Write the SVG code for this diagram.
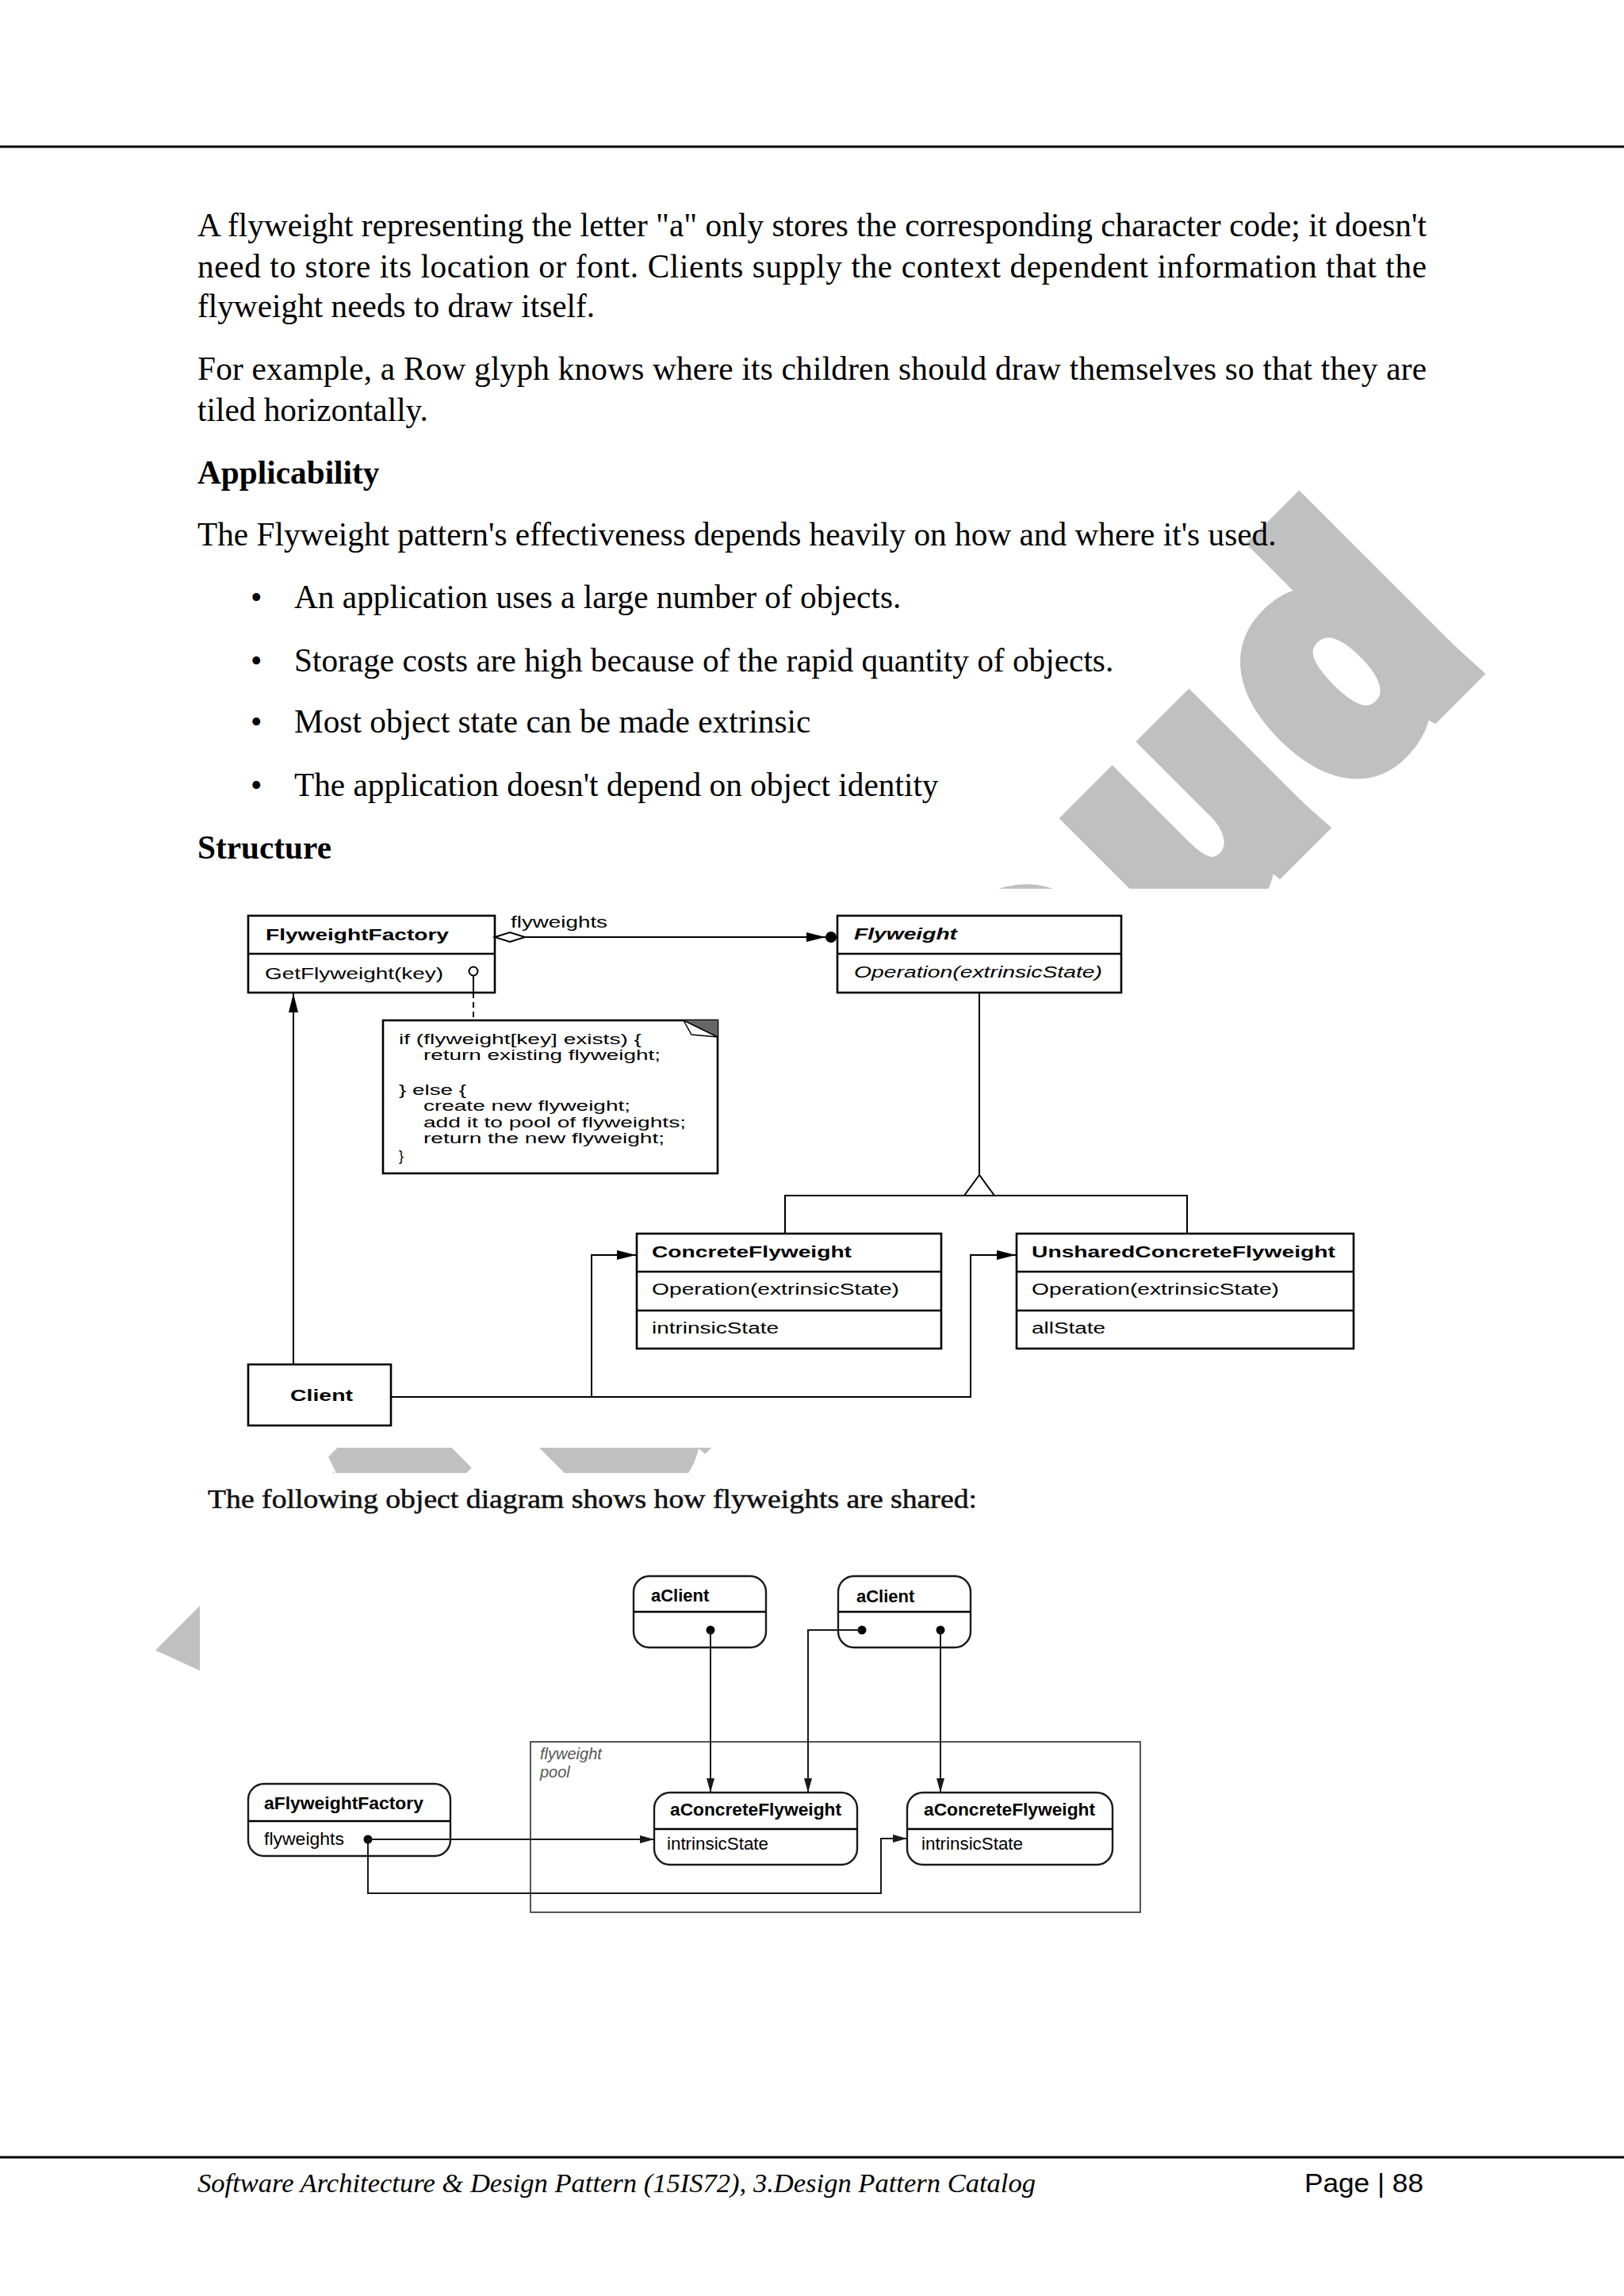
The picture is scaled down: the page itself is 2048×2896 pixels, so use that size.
<svg xmlns="http://www.w3.org/2000/svg" width="2048" height="2896" viewBox="0 0 2048 2896">
<defs>
<style>
.body{font-family:"Liberation Serif","Times New Roman",serif;font-size:41.3px;fill:#000}
.bold{font-weight:bold}
.it{font-style:italic}
.sans{font-family:"Liberation Sans",Arial,Helvetica,sans-serif;fill:#000}
.s20{font-size:20px}
.s18{font-size:18px}
.s22{font-size:22px}
.box{fill:#fff;stroke:#000;stroke-width:2.6}
.div{stroke:#000;stroke-width:2.4}
.conn{fill:none;stroke:#000;stroke-width:2}
.obox{fill:#fff;stroke:#1a1a1a;stroke-width:2.4}
.oconn{fill:none;stroke:#1a1a1a;stroke-width:2}
.dot{fill:#000}
.wm{font-family:"Liberation Sans",Arial,sans-serif;font-weight:bold;font-size:400px;fill:#c0c0c0;stroke:#c0c0c0;stroke-width:40;stroke-linejoin:miter;stroke-miterlimit:4}
</style>
<marker id="arr" viewBox="0 0 24 12" refX="24" refY="6" markerWidth="24" markerHeight="12" markerUnits="userSpaceOnUse" orient="auto"><path d="M0,0 L24,6 L0,12 Z" fill="#000"/></marker>
<marker id="oarr" viewBox="0 0 18 10" refX="18" refY="5" markerWidth="18" markerHeight="10" markerUnits="userSpaceOnUse" orient="auto"><path d="M0,0 L18,5 L0,10 Z" fill="#1a1a1a"/></marker>
</defs>
<rect width="2048" height="2896" fill="#fff"/>

<g id="watermark" transform="translate(1860,835) rotate(-45)">
<text class="wm" y="0"><tspan x="-2032">V</tspan><tspan x="-1775" style="font-size:450px">t</tspan><tspan x="-1540">u</tspan><tspan x="-1238">c</tspan><tspan x="-982">l</tspan><tspan x="-813">o</tspan><tspan x="-515">u</tspan><tspan x="-240">d</tspan></text>
</g>
<g id="image-backgrounds" fill="#fff">
<rect x="285" y="1121" width="1480" height="705"/>
<rect x="252" y="1858" width="1250" height="580"/>
</g>

<g id="page-text">
<line x1="0" y1="185" x2="2048" y2="185" stroke="#000" stroke-width="3"/>
<text class="body" x="249" y="298" textLength="1550" lengthAdjust="spacing">A flyweight representing the letter "a" only stores the corresponding character code; it doesn't</text>
<text class="body" x="249" y="350" textLength="1550" lengthAdjust="spacing">need to store its location or font. Clients supply the context dependent information that the</text>
<text class="body" x="249" y="400">flyweight needs to draw itself.</text>
<text class="body" x="249" y="479" textLength="1550" lengthAdjust="spacing">For example, a Row glyph knows where its children should draw themselves so that they are</text>
<text class="body" x="249" y="531">tiled horizontally.</text>
<text class="body bold" x="249" y="610">Applicability</text>
<text class="body" x="249" y="688">The Flyweight pattern's effectiveness depends heavily on how and where it's used.</text>
<text class="body" x="316" y="767">•</text>
<text class="body" x="371" y="767">An application uses a large number of objects.</text>
<text class="body" x="316" y="847">•</text>
<text class="body" x="371" y="847">Storage costs are high because of the rapid quantity of objects.</text>
<text class="body" x="316" y="924">•</text>
<text class="body" x="371" y="924">Most object state can be made extrinsic</text>
<text class="body" x="316" y="1004">•</text>
<text class="body" x="371" y="1004">The application doesn't depend on object identity</text>
<text class="body bold" x="249" y="1083">Structure</text>
<text x="262" y="1902" font-family="Liberation Serif, serif" font-size="33" fill="#111" stroke="#111" stroke-width="0.5" textLength="970" lengthAdjust="spacingAndGlyphs">The following object diagram shows how flyweights are shared:</text>
<line x1="0" y1="2721" x2="2048" y2="2721" stroke="#000" stroke-width="3"/>
<text class="body it" x="249" y="2765" style="font-size:34.4px" textLength="1057" lengthAdjust="spacingAndGlyphs">Software Architecture &amp; Design Pattern (15IS72), 3.Design Pattern Catalog</text>
<text x="1645" y="2765" font-family="Liberation Sans, Arial, sans-serif" font-size="34" fill="#000" textLength="150" lengthAdjust="spacingAndGlyphs">Page | 88</text>
</g>

<g id="structure-nodes">
<g id="flyweightFactory">
<rect class="box" x="313" y="1155" width="311" height="97"/>
<line class="div" x1="313" y1="1203" x2="624" y2="1203"/>
<text class="sans s20 bold" x="335" y="1186" textLength="231" lengthAdjust="spacingAndGlyphs">FlyweightFactory</text>
<text class="sans s20" x="334" y="1235" textLength="225" lengthAdjust="spacingAndGlyphs">GetFlyweight(key)</text>
<circle cx="597" cy="1225" r="5.5" fill="#fff" stroke="#000" stroke-width="2"/>
<line x1="597" y1="1230.5" x2="597" y2="1252" stroke="#000" stroke-width="2"/>
</g>
<g id="note">
<rect class="box" x="483" y="1287" width="422" height="193"/>
<polygon points="862,1287 905,1287 905,1308" fill="#666"/>
<polygon points="862,1287 872,1305 905,1308" fill="#fff" stroke="#000" stroke-width="1.5"/>
<text class="sans s18" x="503" y="1317" textLength="306" lengthAdjust="spacingAndGlyphs">if (flyweight[key] exists) {</text>
<text class="sans s18" x="534" y="1337" textLength="299" lengthAdjust="spacingAndGlyphs">return existing flyweight;</text>
<text class="sans s18" x="503" y="1381" textLength="85" lengthAdjust="spacingAndGlyphs">} else {</text>
<text class="sans s18" x="534" y="1401" textLength="261" lengthAdjust="spacingAndGlyphs">create new flyweight;</text>
<text class="sans s18" x="534" y="1422" textLength="331" lengthAdjust="spacingAndGlyphs">add it to pool of flyweights;</text>
<text class="sans s18" x="534" y="1442" textLength="304" lengthAdjust="spacingAndGlyphs">return the new flyweight;</text>
<text class="sans s18" x="503" y="1464">}</text>
</g>
<g id="flyweight">
<rect class="box" x="1056" y="1155" width="358" height="97"/>
<line class="div" x1="1056" y1="1203" x2="1414" y2="1203"/>
<text class="sans s20 bold it" x="1077" y="1185" textLength="130" lengthAdjust="spacingAndGlyphs">Flyweight</text>
<text class="sans s20 it" x="1077" y="1233" textLength="313" lengthAdjust="spacingAndGlyphs">Operation(extrinsicState)</text>
</g>
<g id="concreteFlyweight">
<rect class="box" x="803" y="1556" width="384" height="145"/>
<line class="div" x1="803" y1="1604" x2="1187" y2="1604"/>
<line class="div" x1="803" y1="1653" x2="1187" y2="1653"/>
<text class="sans s20 bold" x="822" y="1586" textLength="252" lengthAdjust="spacingAndGlyphs">ConcreteFlyweight</text>
<text class="sans s20" x="822" y="1633" textLength="312" lengthAdjust="spacingAndGlyphs">Operation(extrinsicState)</text>
<text class="sans s20" x="822" y="1682" textLength="160" lengthAdjust="spacingAndGlyphs">intrinsicState</text>
</g>
<g id="unsharedConcreteFlyweight">
<rect class="box" x="1282" y="1556" width="425" height="145"/>
<line class="div" x1="1282" y1="1604" x2="1707" y2="1604"/>
<line class="div" x1="1282" y1="1653" x2="1707" y2="1653"/>
<text class="sans s20 bold" x="1301" y="1586" textLength="383" lengthAdjust="spacingAndGlyphs">UnsharedConcreteFlyweight</text>
<text class="sans s20" x="1301" y="1633" textLength="312" lengthAdjust="spacingAndGlyphs">Operation(extrinsicState)</text>
<text class="sans s20" x="1301" y="1682" textLength="93" lengthAdjust="spacingAndGlyphs">allState</text>
</g>
<g id="client">
<rect class="box" x="313" y="1721" width="180" height="77"/>
<text class="sans s20 bold" x="366" y="1767" textLength="79" lengthAdjust="spacingAndGlyphs">Client</text>
</g>
</g>

<g id="structure-connectors">
<polygon points="624,1182 643,1176 662,1182 643,1188" fill="#fff" stroke="#000" stroke-width="2"/>
<line class="conn" x1="662" y1="1182" x2="1041" y2="1182" marker-end="url(#arr)"/>
<circle cx="1048" cy="1182" r="7" class="dot"/>
<text class="sans s20" x="644" y="1170" textLength="122" lengthAdjust="spacingAndGlyphs">flyweights</text>
<line class="conn" x1="597" y1="1252" x2="597" y2="1287" stroke-dasharray="7,5"/>
<line class="conn" x1="1235" y1="1252" x2="1235" y2="1482"/>
<polygon points="1235,1482 1216,1508 1254,1508" fill="#fff" stroke="#000" stroke-width="2"/>
<polyline class="conn" points="990,1556 990,1508 1497,1508 1497,1556"/>
<line class="conn" x1="370" y1="1721" x2="370" y2="1253" marker-end="url(#arr)"/>
<polyline class="conn" points="493,1762 746,1762 746,1583 802,1583" marker-end="url(#arr)"/>
<polyline class="conn" points="746,1762 1224,1762 1224,1583 1281,1583" marker-end="url(#arr)"/>
</g>

<g id="flyweightPool">
<rect x="669" y="2197" width="769" height="215" fill="none" stroke="#444" stroke-width="1.8"/>
<text class="sans it" x="681" y="2219" font-size="20" style="fill:#555">flyweight</text>
<text class="sans it" x="681" y="2242" font-size="20" style="fill:#555">pool</text>
</g>

<g id="object-nodes">
<g id="aClient1">
<rect class="obox" x="799" y="1988" width="167" height="90" rx="20"/>
<line class="div" x1="799" y1="2033" x2="966" y2="2033"/>
<text class="sans s22 bold" x="821" y="2020">aClient</text>
<circle cx="896" cy="2056" r="5.5" class="dot"/>
</g>
<g id="aClient2">
<rect class="obox" x="1057" y="1988" width="167" height="90" rx="20"/>
<line class="div" x1="1057" y1="2033" x2="1224" y2="2033"/>
<text class="sans s22 bold" x="1080" y="2021">aClient</text>
<circle cx="1087" cy="2056" r="5.5" class="dot"/>
<circle cx="1186" cy="2056" r="5.5" class="dot"/>
</g>
<g id="aFlyweightFactory">
<rect class="obox" x="313" y="2250" width="255" height="91" rx="20"/>
<line class="div" x1="313" y1="2297" x2="568" y2="2297"/>
<text class="sans s22 bold" x="333" y="2282" textLength="201" lengthAdjust="spacingAndGlyphs">aFlyweightFactory</text>
<text class="sans s22" x="333" y="2327" textLength="101" lengthAdjust="spacingAndGlyphs">flyweights</text>
<circle cx="464" cy="2320" r="5.5" class="dot"/>
</g>
<g id="aConcreteFlyweight1">
<rect class="obox" x="825" y="2261" width="256" height="91" rx="20"/>
<line class="div" x1="825" y1="2307" x2="1081" y2="2307"/>
<text class="sans s22 bold" x="845" y="2290" textLength="216" lengthAdjust="spacingAndGlyphs">aConcreteFlyweight</text>
<text class="sans s22" x="841" y="2333" textLength="128" lengthAdjust="spacingAndGlyphs">intrinsicState</text>
</g>
<g id="aConcreteFlyweight2">
<rect class="obox" x="1144" y="2261" width="259" height="91" rx="20"/>
<line class="div" x1="1144" y1="2307" x2="1403" y2="2307"/>
<text class="sans s22 bold" x="1165" y="2290" textLength="216" lengthAdjust="spacingAndGlyphs">aConcreteFlyweight</text>
<text class="sans s22" x="1162" y="2333" textLength="128" lengthAdjust="spacingAndGlyphs">intrinsicState</text>
</g>
</g>

<g id="object-connectors">
<line class="oconn" x1="896" y1="2056" x2="896" y2="2261" marker-end="url(#oarr)"/>
<polyline class="oconn" points="1087,2056 1019,2056 1019,2261" marker-end="url(#oarr)"/>
<line class="oconn" x1="1186" y1="2056" x2="1186" y2="2261" marker-end="url(#oarr)"/>
<line class="oconn" x1="464" y1="2320" x2="825" y2="2320" marker-end="url(#oarr)"/>
<polyline class="oconn" points="464,2320 464,2388 1111,2388 1111,2319 1144,2319" marker-end="url(#oarr)"/>
</g>
</svg>
